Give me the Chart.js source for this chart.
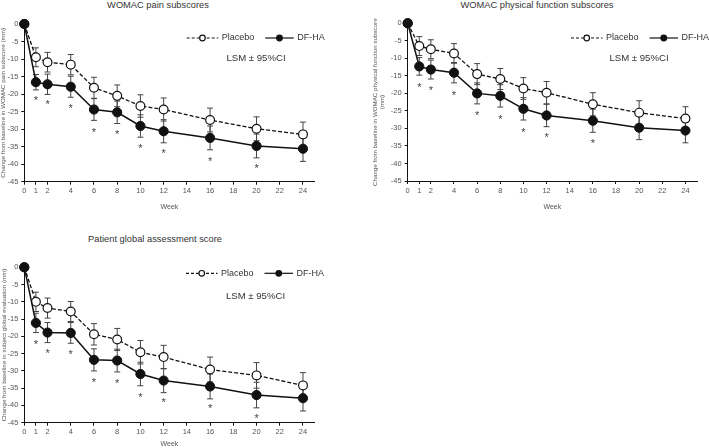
<!DOCTYPE html>
<html>
<head>
<meta charset="utf-8">
<script src="https://cdn.jsdelivr.net/npm/chart.js@4.4.0/dist/chart.umd.min.js"></script>
<style>
  body { margin: 0; background: #fff; width: 709px; height: 448px; overflow: hidden; position: relative;
         font-family: "Liberation Sans", Arial, sans-serif; }
  canvas { position: absolute; }
  .title { position: absolute; width: 300px; text-align: center; white-space: nowrap;
           font-size: 9.3px; line-height: 11px; color: #333; }
</style>
</head>
<body>
<div class="title" style="left:8px;top:0px">WOMAC pain subscores</div>
<div class="title" style="left:387px;top:0px">WOMAC physical function subscores</div>
<div class="title" style="left:5px;top:234px">Patient global assessment score</div>
<canvas id="pain" width="354" height="220" style="left:0;top:0"></canvas>
<canvas id="physical" width="354" height="220" style="left:355px;top:0"></canvas>
<canvas id="global" width="354" height="228" style="left:0;top:220px"></canvas>
<script>
"use strict";

const WEEKS = [0, 1, 2, 4, 6, 8, 10, 12, 16, 20, 24];
const X_TICKS = [0, 1, 2, 4, 6, 8, 10, 12, 14, 16, 18, 20, 22, 24];

// WOMAC pain
const PAIN_PLACEBO = [0, -9.5, -10.9, -11.6, -18.2, -20.5, -23.4, -24.4, -27.4, -29.9, -31.5];
const PAIN_PLACEBO_CI = [0, 2.7, 2.8, 2.9, 3.0, 3.1, 3.2, 3.3, 3.4, 3.4, 3.5];
const PAIN_DFHA = [0, -16.6, -17.2, -17.9, -24.4, -25.2, -29.1, -30.6, -32.5, -34.8, -35.6];
const PAIN_DFHA_CI = [0, 2.2, 2.9, 3.0, 3.1, 3.2, 3.2, 3.3, 3.4, 3.4, 3.6];
const PAIN_STAR_WEEKS = [1, 2, 4, 6, 8, 10, 12, 16, 20];
const PAIN_STAR_Y = [-20.9, -22.2, -23.4, -30.0, -30.8, -34.7, -36.2, -38.3, -40.4];

// WOMAC physical function
const PHYS_PLACEBO = [0, -6.5, -7.4, -8.6, -14.5, -15.9, -18.6, -19.8, -23.1, -25.5, -27.2];
const PHYS_PLACEBO_CI = [0, 2.7, 2.7, 2.8, 3.0, 3.0, 3.1, 3.2, 3.3, 3.4, 3.4];
const PHYS_DFHA = [0, -12.3, -13.2, -14.1, -20.0, -20.7, -24.4, -26.3, -27.8, -29.8, -30.6];
const PHYS_DFHA_CI = [0, 2.5, 2.7, 2.9, 3.0, 3.2, 3.2, 3.2, 3.3, 3.4, 3.5];
const PHYS_STAR_WEEKS = [1, 2, 4, 6, 8, 10, 12, 16];
const PHYS_STAR_Y = [-17.4, -18.4, -19.8, -25.5, -26.6, -30.3, -31.9, -33.6];

// Patient global assessment
const GLOB_PLACEBO = [0, -10.0, -11.8, -12.8, -19.4, -20.9, -24.6, -26.0, -29.6, -31.3, -34.2];
const GLOB_PLACEBO_CI = [0, 2.8, 2.9, 2.9, 3.1, 3.2, 3.4, 3.4, 3.6, 3.7, 3.7];
const GLOB_DFHA = [0, -16.1, -18.9, -19.0, -26.8, -27.0, -30.9, -32.8, -34.5, -37.0, -37.9];
const GLOB_DFHA_CI = [0, 2.8, 2.9, 3.0, 3.2, 3.3, 3.4, 3.5, 3.6, 3.7, 3.7];
const GLOB_STAR_WEEKS = [1, 2, 4, 6, 8, 10, 12, 16, 20];
const GLOB_STAR_Y = [-21.5, -24.1, -24.5, -32.4, -32.9, -36.8, -38.4, -40.1, -42.8];

const FONT = "'Liberation Sans', Arial, sans-serif";
const INK = "#111";
const TEXT = "#333";
const TICK_TEXT = "#555";

function drawSample(ctx, x, y, w, dashed, filled) {
  ctx.strokeStyle = INK;
  ctx.lineWidth = 1.2;
  ctx.setLineDash(dashed ? [3, 2] : []);
  ctx.beginPath();
  ctx.moveTo(x, y);
  ctx.lineTo(x + w, y);
  ctx.stroke();
  ctx.setLineDash([]);
  ctx.beginPath();
  ctx.arc(x + w / 2, y, 2.8, 0, 2 * Math.PI);
  ctx.fillStyle = filled ? INK : "#fff";
  ctx.fill();
  ctx.stroke();
}

const overlayPlugin = {
  id: "overlay",
  beforeDatasetsDraw(chart, args, opts) {
    const ctx = chart.ctx;
    const xs = chart.scales.x;
    const ys = chart.scales.y;
    ctx.save();
    ctx.strokeStyle = "#444";
    ctx.lineWidth = 1;
    for (const eb of opts.errorBars) {
      eb.values.forEach(function(v, i) {
        const ci = eb.ci[i];
        if (!ci) {
          return;
        }
        const x = xs.getPixelForValue(WEEKS[i]);
        const y1 = ys.getPixelForValue(v + ci);
        const y2 = ys.getPixelForValue(v - ci);
        ctx.beginPath();
        ctx.moveTo(x, y1); ctx.lineTo(x, y2);
        ctx.moveTo(x - 3, y1); ctx.lineTo(x + 3, y1);
        ctx.moveTo(x - 3, y2); ctx.lineTo(x + 3, y2);
        ctx.stroke();
      });
    }
    ctx.restore();
  },
  afterDraw(chart, args, opts) {
    const ctx = chart.ctx;
    const xs = chart.scales.x;
    const ys = chart.scales.y;
    ctx.save();

    // significance stars
    ctx.fillStyle = "#444";
    ctx.font = "11px " + FONT;
    ctx.textAlign = "center";
    ctx.textBaseline = "alphabetic";
    opts.stars.weeks.forEach(function(w, i) {
      ctx.fillText("*", xs.getPixelForValue(w), ys.getPixelForValue(opts.stars.y[i]) + 6.4);
    });

    // legend
    const lg = opts.legend;
    ctx.font = "9px " + FONT;
    ctx.textAlign = "left";
    ctx.textBaseline = "middle";
    let x = lg.x;
    drawSample(ctx, x, lg.y, 31.5, true, false);
    x += 35;
    ctx.fillStyle = TEXT;
    ctx.fillText("Placebo", x, lg.y);
    x += ctx.measureText("Placebo").width + 11;
    drawSample(ctx, x, lg.y, 28.5, false, true);
    x += 32;
    ctx.fillStyle = TEXT;
    ctx.fillText("DF-HA", x, lg.y);

    // LSM note
    ctx.font = "9.6px " + FONT;
    ctx.textAlign = "center";
    ctx.fillText("LSM \u00b1 95%CI", opts.lsm.x, opts.lsm.y);
    ctx.restore();
  }
};

function makeChart(canvasId, placebo, placeboCi, dfha, dfhaCi, starWeeks, starY, yTitle, frame) {
  const ctx = document.getElementById(canvasId).getContext("2d");
  new Chart(ctx, {
    type: "line",
    data: {
      datasets: [
        {
          label: "DF-HA",
          data: WEEKS.map((w, i) => ({x: w, y: dfha[i]})),
          borderColor: INK,
          backgroundColor: INK,
          borderWidth: 1.5,
          pointRadius: 4.6,
          pointBackgroundColor: INK,
          pointBorderColor: INK,
          pointBorderWidth: 1,
          order: 0,
          clip: false
        },
        {
          label: "Placebo",
          data: WEEKS.map((w, i) => ({x: w, y: placebo[i]})),
          borderColor: INK,
          backgroundColor: "#fff",
          borderWidth: 1.3,
          borderDash: [4, 2],
          pointRadius: 4.4,
          pointBackgroundColor: "#fff",
          pointBorderColor: INK,
          pointBorderWidth: 1.2,
          order: 1,
          clip: false
        }
      ]
    },
    options: {
      responsive: false,
      animation: false,
      events: [],
      layout: {padding: {top: frame.top, right: frame.right, left: 0, bottom: 0}},
      plugins: {
        legend: {display: false},
        tooltip: {enabled: false},
        overlay: {
          errorBars: [{values: placebo, ci: placeboCi}, {values: dfha, ci: dfhaCi}],
          stars: {weeks: starWeeks, y: starY},
          legend: frame.legend,
          lsm: frame.lsm
        }
      },
      scales: {
        x: {
          type: "linear",
          min: 0,
          max: 25,
          afterBuildTicks: function(scale) {
            scale.ticks = X_TICKS.map(v => ({value: v}));
          },
          afterFit: function(scale) {
            scale.height = frame.xHeight;
          },
          ticks: {autoSkip: false, maxRotation: 0, padding: 2, color: TICK_TEXT,
                  font: {family: FONT, size: 7.5}},
          grid: {display: true, drawOnChartArea: false, drawTicks: true, tickLength: 3, color: INK},
          border: {display: true, color: INK, width: 1},
          title: {display: true, text: "Week", color: TICK_TEXT, font: {family: FONT, size: 7},
                  padding: {top: 0, bottom: frame.weekPad}}
        },
        y: {
          min: -45,
          max: 0,
          afterFit: function(scale) {
            scale.width = frame.yWidth;
          },
          ticks: {stepSize: 5, padding: 3, color: TICK_TEXT, font: {family: FONT, size: 7.5}},
          grid: {display: true, drawOnChartArea: false, drawTicks: true, tickLength: 3, color: INK},
          border: {display: true, color: INK, width: 1},
          title: {display: true, text: yTitle, color: TICK_TEXT,
                  font: {family: FONT, size: 6.2, lineHeight: 1},
                  padding: {top: frame.yTitlePad, bottom: 0}}
        }
      }
    },
    plugins: [overlayPlugin]
  });
}

window.addEventListener("load", function() {
  makeChart("pain", PAIN_PLACEBO, PAIN_PLACEBO_CI, PAIN_DFHA, PAIN_DFHA_CI,
            PAIN_STAR_WEEKS, PAIN_STAR_Y,
            "Change from baseline in WOMAC pain subscore (mm)",
            {top: 24, right: 39.4, yWidth: 24.3, xHeight: 38.3, weekPad: 8.8, yTitlePad: 0.5,
             legend: {x: 186.7, y: 38}, lsm: {x: 256, y: 58}});
  makeChart("physical", PHYS_PLACEBO, PHYS_PLACEBO_CI, PHYS_DFHA, PHYS_DFHA_CI,
            PHYS_STAR_WEEKS, PHYS_STAR_Y,
            ["Change from baseline in WOMAC physical function subscore", "(mm)"],
            {top: 23.3, right: 12, yWidth: 52.7, xHeight: 39, weekPad: 8.8, yTitlePad: 17.5,
             legend: {x: 216, y: 38}, lsm: {x: 284, y: 58}});
  makeChart("global", GLOB_PLACEBO, GLOB_PLACEBO_CI, GLOB_DFHA, GLOB_DFHA_CI,
            GLOB_STAR_WEEKS, GLOB_STAR_Y,
            "Change from baseline in subject global evaluation (mm)",
            {top: 47.3, right: 39.4, yWidth: 24.3, xHeight: 25.3, weekPad: 0, yTitlePad: 0.8,
             legend: {x: 186, y: 53.3}, lsm: {x: 255.5, y: 76}});
});
</script>
</body>
</html>
